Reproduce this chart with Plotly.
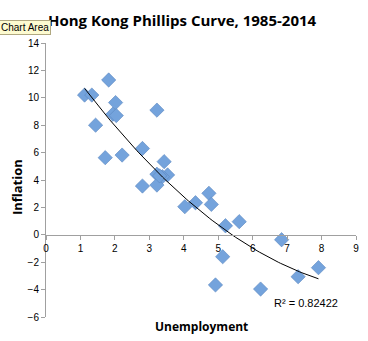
import numpy as np
import plotly.graph_objects as go

unemployment = [1.12, 1.33, 1.44, 1.82, 2.02, 1.94, 2.04, 1.72, 2.21, 3.22,
                2.80, 2.80, 3.43, 3.22, 3.53, 3.38, 3.22, 4.03, 4.34, 4.73,
                4.80, 5.21, 5.61, 6.84, 5.13, 7.91, 7.32, 4.92, 6.23, 3.30]
inflation = [10.2, 10.2, 8.0, 11.3, 9.65, 8.8, 8.7, 5.63, 5.82, 9.1,
             6.3, 3.56, 5.34, 4.42, 4.37, 4.24, 3.63, 2.05, 2.34, 3.03,
             2.22, 0.66, 0.96, -0.36, -1.6, -2.4, -3.06, -3.66, -3.96, 4.3]

x_ticks = list(range(0, 10))
y_ticks = list(range(-6, 15, 2))

coef = np.polyfit(unemployment, inflation, 2)
xs = np.linspace(min(unemployment), max(unemployment), 100)
ys = np.polyval(coef, xs)
pred = np.polyval(coef, unemployment)
ss_res = np.sum((np.array(inflation) - pred) ** 2)
ss_tot = np.sum((np.array(inflation) - np.mean(inflation)) ** 2)
r2 = 1 - ss_res / ss_tot

fig = go.Figure()
fig.add_trace(go.Scatter(
    x=unemployment, y=inflation, mode="markers",
    marker=dict(symbol="diamond", size=11, color="#74a3dc",
                line=dict(color="#5b87c0", width=0.6)),
    showlegend=False, hoverinfo="skip"))
fig.add_trace(go.Scatter(
    x=xs, y=ys, mode="lines", line=dict(color="black", width=1),
    showlegend=False, hoverinfo="skip"))

fig.update_layout(
    width=368, height=341,
    margin=dict(l=46, r=9, t=43, b=24),
    paper_bgcolor="white", plot_bgcolor="white",
    font=dict(family="Liberation Sans, Arial", size=10, color="black"),
    xaxis=dict(range=[0, 9], tickvals=x_ticks, showgrid=False, zeroline=False,
               showline=True, linecolor="#a0a0a0", linewidth=1,
               ticks="outside", ticklen=4, tickcolor="#a0a0a0",
               anchor="free", position=0.3, tickfont=dict(size=10)),
    yaxis=dict(range=[-6, 14], tickvals=y_ticks, showgrid=False, zeroline=False,
               showline=True, linecolor="#a0a0a0", linewidth=1,
               ticks="outside", ticklen=4, tickcolor="#a0a0a0",
               tickfont=dict(size=10)),
    annotations=[
        dict(text="<b>Hong Kong Phillips Curve, 1985-2014</b>", xref="paper", yref="paper",
             x=0.44, y=1.0, yshift=35, showarrow=False,
             font=dict(family="Open Sans, Liberation Sans", size=15, color="black")),
        dict(text="<b>Unemployment</b>", xref="paper", yref="paper",
             x=0.5, y=0, yshift=-20, showarrow=False,
             font=dict(family="Open Sans, Liberation Sans", size=12, color="black")),
        dict(text="<b>Inflation</b>", xref="paper", yref="paper",
             x=0, y=0.474, xshift=-29, xanchor="center", showarrow=False, textangle=-90,
             font=dict(family="Open Sans, Liberation Sans", size=13, color="black")),
        dict(text="R² = %.5f" % r2, xref="x", yref="y", x=7.55, y=-4.95,
             showarrow=False, font=dict(size=11, color="black")),
        dict(text="Chart Area", xref="paper", yref="paper", x=0, y=1.0,
             xshift=-47, yshift=8, xanchor="left", yanchor="bottom", showarrow=False,
             bgcolor="#fdfbd0", bordercolor="#b0a880", borderwidth=1, borderpad=1,
             font=dict(size=10, color="black")),
    ],
)

fig.write_html("out.html")
